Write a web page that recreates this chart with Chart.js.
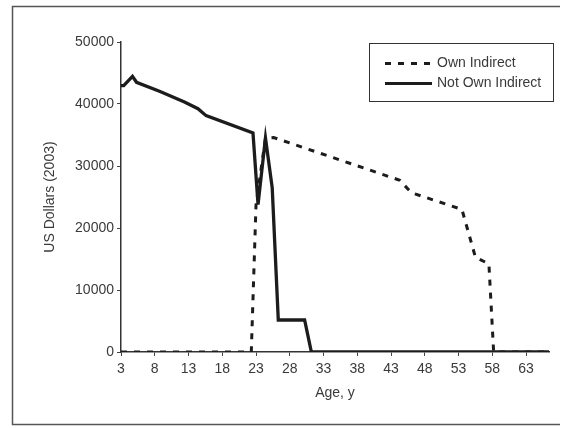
<!DOCTYPE html>
<html><head><meta charset="utf-8">
<script src="https://cdn.jsdelivr.net/npm/chart.js@4.4.0/dist/chart.umd.min.js"></script>
<style>html,body{margin:0;padding:0;background:#fff}#wrap{width:577px;height:428px;position:relative}</style>
</head><body><div id="wrap"><canvas id="c" width="577" height="428"></canvas></div>
<script>
const xTickLabels = [3,8,13,18,23,28,33,38,43,48,53,58,63];
const yTickValues = [0,10000,20000,30000,40000,50000];
const notOwnAges   = [3,3.4,4.7,5.3,8.7,12.4,14.4,15.6,22.55,23.3,24.4,25.4,26.3,30.2,31.2,66.4];
const notOwnValues = [42950,42950,44450,43500,42050,40330,39250,38120,35330,23780,34530,26470,5160,5160,0,0];
const ownAges   = [3,22.3,23.0,24.4,25.6,44.3,46,53.5,55.5,57.5,58.2,66.4];
const ownValues = [0,0,23700,34500,34600,27700,25700,23000,15300,14200,0,0];
const seriesNames = ['Own Indirect','Not Own Indirect'];

const FONT = '"Liberation Sans Narrow","Arial Narrow","Liberation Sans",Arial,sans-serif';
Chart.defaults.font.family = FONT;
const INK = '#1c1c1c';
const TXT = '#3a3a3a';

const toPts = (xs, ys) => xs.map((x,i)=>({x:x, y:ys[i]}));

const framePlugin = {
  id:'frameLegend',
  afterDraw(chart){
    const ctx = chart.ctx;
    ctx.save();
    ctx.strokeStyle = '#555'; ctx.lineWidth = 1.5;
    ctx.beginPath();
    ctx.moveTo(560,6.5); ctx.lineTo(12.5,6.5); ctx.lineTo(12.5,424.5); ctx.lineTo(560,424.5);
    ctx.stroke();
    ctx.strokeStyle = '#333'; ctx.lineWidth = 1;
    ctx.strokeRect(369.5,43.5,184,58);
    const rows = [63.5, 83.5];
    chart.data.datasets.forEach((ds,i)=>{
      ctx.strokeStyle = ds.borderColor; ctx.lineWidth = 3;
      ctx.setLineDash(ds.borderDash || []);
      ctx.beginPath(); ctx.moveTo(385, rows[i]); ctx.lineTo(432, rows[i]); ctx.stroke();
      ctx.setLineDash([]);
      ctx.fillStyle = TXT; ctx.font = '14px ' + FONT; ctx.textBaseline = 'middle';
      ctx.fillText(ds.label, 437, rows[i]);
    });
    ctx.restore();
  }
};

new Chart(document.getElementById('c'), {
  type:'line',
  data:{datasets:[
    {label:seriesNames[0], data:toPts(ownAges, ownValues), borderColor:INK, borderWidth:3, borderDash:[6,7], pointRadius:0, tension:0, fill:false},
    {label:seriesNames[1], data:toPts(notOwnAges, notOwnValues), borderColor:INK, borderWidth:3.3, pointRadius:0, tension:0, fill:false}
  ]},
  options:{
    responsive:false, animation:false,
    layout:{padding:{left:0, top:42, right:28, bottom:21}},
    plugins:{legend:{display:false}, tooltip:{enabled:false}},
    scales:{
      x:{type:'linear', min:3, max:66.4,
        afterBuildTicks:a=>{a.ticks = xTickLabels.map(v=>({value:v}));},
        afterFit:s=>{s.height = 55;},
        ticks:{autoSkip:false, maxRotation:0, color:TXT, font:{size:14}, padding:5},
        grid:{drawOnChartArea:false, drawTicks:true, tickLength:4, color:'#444'},
        border:{display:true, color:'#333', width:1.5},
        title:{display:true, text:'Age, y', color:TXT, font:{size:14}, padding:{top:0,bottom:5}}
      },
      y:{min:0, max:50000,
        afterBuildTicks:a=>{a.ticks = yTickValues.map(v=>({value:v}));},
        afterFit:s=>{s.width = 121;},
        ticks:{color:TXT, font:{size:14}, padding:3, callback:v=>String(v)},
        grid:{drawOnChartArea:false, drawTicks:true, tickLength:4, color:'#444'},
        border:{display:true, color:'#333', width:1.5},
        title:{display:true, text:'US Dollars (2003)', color:TXT, font:{size:14}, padding:{top:42,bottom:0}}
      }
    }
  },
  plugins:[framePlugin]
});
</script></body></html>
